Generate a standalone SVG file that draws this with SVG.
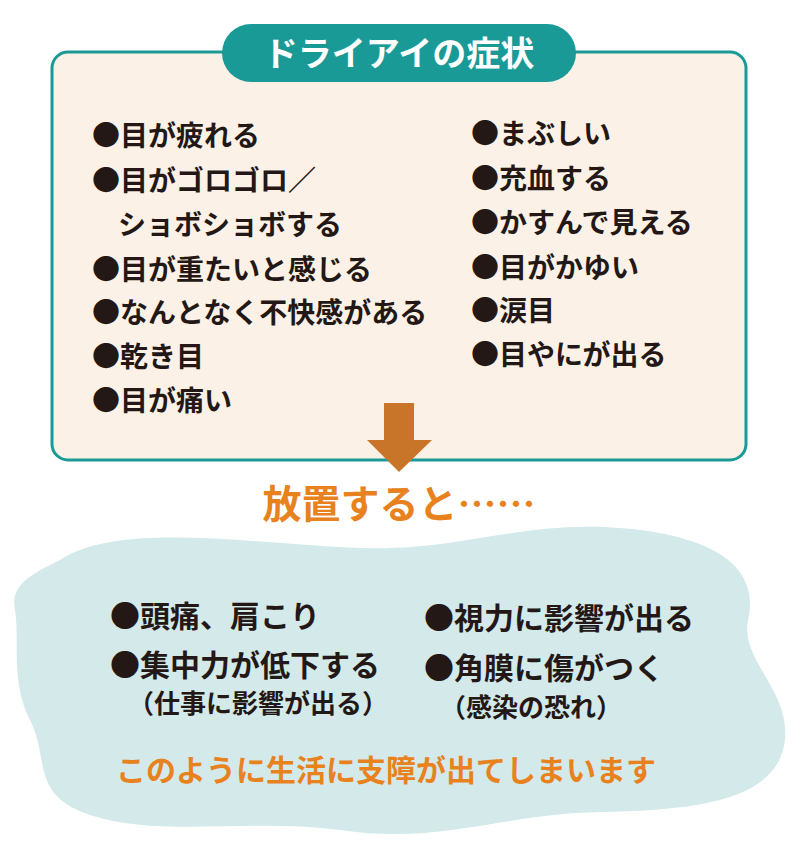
<svg xmlns="http://www.w3.org/2000/svg" width="800" height="860" viewBox="0 0 800 860">
<style>
.t{font-family:"Noto Sans CJK JP",sans-serif;font-weight:bold;fill:#231815}
.l{font-size:28px}
.b{font-size:30px}
.s{font-size:26px}
.o{fill:#e8821e}
</style>
<rect width="800" height="860" fill="#fff"/>
<g id="symptoms">
<rect x="52" y="52" width="694" height="408" rx="16" fill="#fcf1e6" stroke="#1a9a96" stroke-width="3"/>
<rect x="222" y="24" width="354" height="58" rx="29" fill="#1a9a96"/>
<text x="399" y="66" text-anchor="middle" class="t" style="fill:#fff;font-size:34px">ドライアイの症状</text>
<g class="t l">
<text x="92" y="146">●目が疲れる</text>
<text x="92" y="191">●目がゴロゴロ／</text>
<text x="118" y="235">ショボショボする</text>
<text x="92" y="280">●目が重たいと感じる</text>
<text x="92" y="323">●なんとなく不快感がある</text>
<text x="92" y="367">●乾き目</text>
<text x="92" y="411">●目が痛い</text>
<text x="471" y="144">●まぶしい</text>
<text x="471" y="189">●充血する</text>
<text x="471" y="233">●かすんで見える</text>
<text x="471" y="278">●目がかゆい</text>
<text x="471" y="321">●涙目</text>
<text x="471" y="365">●目やにが出る</text>
</g>
</g>
<g id="connectors">
<polygon points="384,403 414,403 414,440 432,440 399,472 367,440 384,440" fill="#c8752a"/>
</g>
<g id="neglect">
<text x="399" y="518" text-anchor="middle" class="t o" style="font-size:39px">放置すると……</text>
</g>
<g id="results">
<path d="M60,560 C120,520 260,545 360,548 C460,552 520,520 620,528 C720,536 760,570 748,620 C740,660 790,690 785,740 C778,800 700,810 600,812 C500,814 440,845 340,830 C250,818 160,838 90,815 C30,795 50,760 30,720 C10,680 20,640 15,610 C10,585 30,575 60,560 Z" fill="#d3e9ea"/>
<g class="t b">
<text x="110" y="627">●頭痛、肩こり</text>
<text x="110" y="676">●集中力が低下する</text>
<text x="424" y="629">●視力に影響が出る</text>
<text x="424" y="679">●角膜に傷がつく</text>
</g>
<g class="t s">
<text x="128" y="713">（仕事に影響が出る）</text>
<text x="440" y="717">（感染の恐れ）</text>
</g>
<text x="386" y="781" text-anchor="middle" class="t o" style="font-size:30px">このように生活に支障が出てしまいます</text>
</g>
</svg>
